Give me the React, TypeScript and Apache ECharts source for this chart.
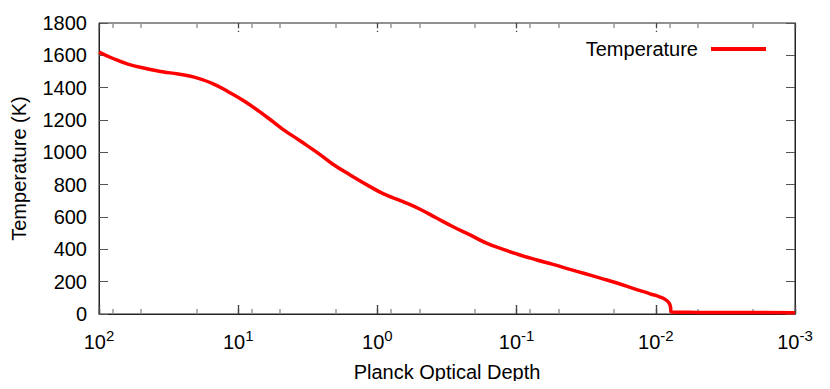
import React, { useEffect, useRef } from "react";
import * as echarts from "echarts";

// Planck optical depth (x, log scale, reversed) and temperature (K)
const depth = [
  100, 80, 62, 47, 35, 27, 20.4, 15.4, 11.8, 8.9, 6.2, 4.8, 3.6, 2.7, 2.1, 1.57,
  1.13, 0.91, 0.655, 0.494, 0.373, 0.286, 0.216, 0.163, 0.125, 0.0946, 0.0714,
  0.0548, 0.0413, 0.033, 0.025, 0.019, 0.0146, 0.011, 0.0093, 0.0083, 0.0079,
  0.0077, 0.005, 0.002, 0.001,
];
const temperature = [
  1620, 1582, 1546, 1520, 1499, 1484, 1464, 1427, 1375, 1313, 1217, 1144, 1072,
  998, 928, 860, 788, 745, 695, 648, 592, 540, 489, 437, 400, 365, 334, 307, 276,
  252, 222, 192, 159, 125, 105, 82, 55, 12, 10, 9, 8,
];
const majorTickValues = [100, 10, 1, 0.1, 0.01, 0.001];
const minorTickValues = [80, 50, 20, 8, 5, 2, 0.8, 0.5, 0.2, 0.08, 0.05, 0.02, 0.008, 0.005, 0.002];
const seriesName = "Temperature";
const xTitle = "Planck Optical Depth";
const yTitle = "Temperature (K)";

const FONT = "'Liberation Sans', Arial, sans-serif";
const FRAME = "#222";
const Y_MIN = 0;
const Y_MAX = 1800;

export default function App() {
  const ref = useRef<HTMLDivElement>(null);
  useEffect(() => {
    if (!ref.current) return;
    const chart = echarts.init(ref.current, null, { renderer: "svg" });
    const line = () => ({ show: true, onZero: false, lineStyle: { color: FRAME, width: 1 } });
    const yTick = () => ({ show: true, inside: true, length: 9, lineStyle: { color: "#555" } });
    // x ticks as short segments in data space (bottom and mirrored top)
    const tickSegs = (values: number[], lenK: number, color: string, width: number) =>
      values.flatMap((v) => [
        [
          { coord: [v, Y_MIN], lineStyle: { color, width } },
          { coord: [v, Y_MIN + lenK] },
        ],
        [
          { coord: [v, Y_MAX], lineStyle: { color, width } },
          { coord: [v, Y_MAX - lenK] },
        ],
      ]);
    chart.setOption({
      animation: false,
      textStyle: { fontFamily: FONT },
      grid: { left: 99, right: 35, top: 23, bottom: 75, show: true, borderColor: FRAME, borderWidth: 1 },
      legend: {
        right: 59,
        top: 34,
        align: "right",
        icon: "rect",
        itemWidth: 55,
        itemHeight: 4,
        textStyle: { fontSize: 20, color: "#000", fontFamily: FONT, padding: [0, 8, 0, 0] },
        data: [seriesName],
      },
      xAxis: {
        type: "log",
        logBase: 10,
        min: 0.001,
        max: 100,
        inverse: true,
        position: "bottom",
        name: xTitle,
        nameLocation: "middle",
        nameGap: 48,
        nameTextStyle: { fontSize: 20, color: "#000", fontFamily: FONT },
        axisLine: line(),
        splitLine: { show: false },
        axisTick: { show: true, inside: true, length: 9, lineStyle: { color: "#444", width: 1.3 } },
        axisLabel: {
          margin: 14,
          color: "#000",
          showMinLabel: true,
          showMaxLabel: true,
          formatter: (v: number) => `{b|10}{s|${Math.round(Math.log10(v))}}`,
          rich: {
            b: { fontSize: 20, color: "#000", fontFamily: FONT },
            s: { fontSize: 15, color: "#000", fontFamily: FONT, padding: [0, 0, 12, 0] },
          },
        },
      },
      yAxis: [
        {
          type: "value",
          min: Y_MIN,
          max: Y_MAX,
          interval: 200,
          position: "left",
          name: yTitle,
          nameLocation: "middle",
          nameGap: 70,
          nameTextStyle: { fontSize: 20, color: "#000", fontFamily: FONT },
          axisLine: line(),
          splitLine: { show: false },
          axisTick: yTick(),
          axisLabel: {
            fontSize: 20,
            color: "#000",
            margin: 12,
            fontFamily: FONT,
            formatter: (v: number) => String(v),
          },
        },
        {
          type: "value",
          position: "right",
          min: Y_MIN,
          max: Y_MAX,
          interval: 200,
          axisLine: line(),
          splitLine: { show: false },
          axisLabel: { show: false },
          axisTick: yTick(),
        },
      ],
      series: [
        {
          name: seriesName,
          type: "line",
          xAxisIndex: 0,
          yAxisIndex: 0,
          data: depth.map((d, i) => [d, temperature[i]]),
          showSymbol: false,
          symbol: "none",
          smooth: 0.5,
          lineStyle: { color: "#ff0000", width: 3.5 },
          itemStyle: { color: "#ff0000" },
          z: 5,
          markLine: {
            silent: true,
            symbol: ["none", "none"],
            label: { show: false },
            emphasis: { disabled: true },
            animation: false,
            z: 1,
            data: [
              ...tickSegs(majorTickValues, 56, "#444", 1.3),
              ...tickSegs(minorTickValues, 31, "#999", 1.5),
            ],
          },
        },
      ],
    });
    return () => chart.dispose();
  }, []);
  return <div ref={ref} style={{ width: 830, height: 389, margin: -8 }} />;
}
